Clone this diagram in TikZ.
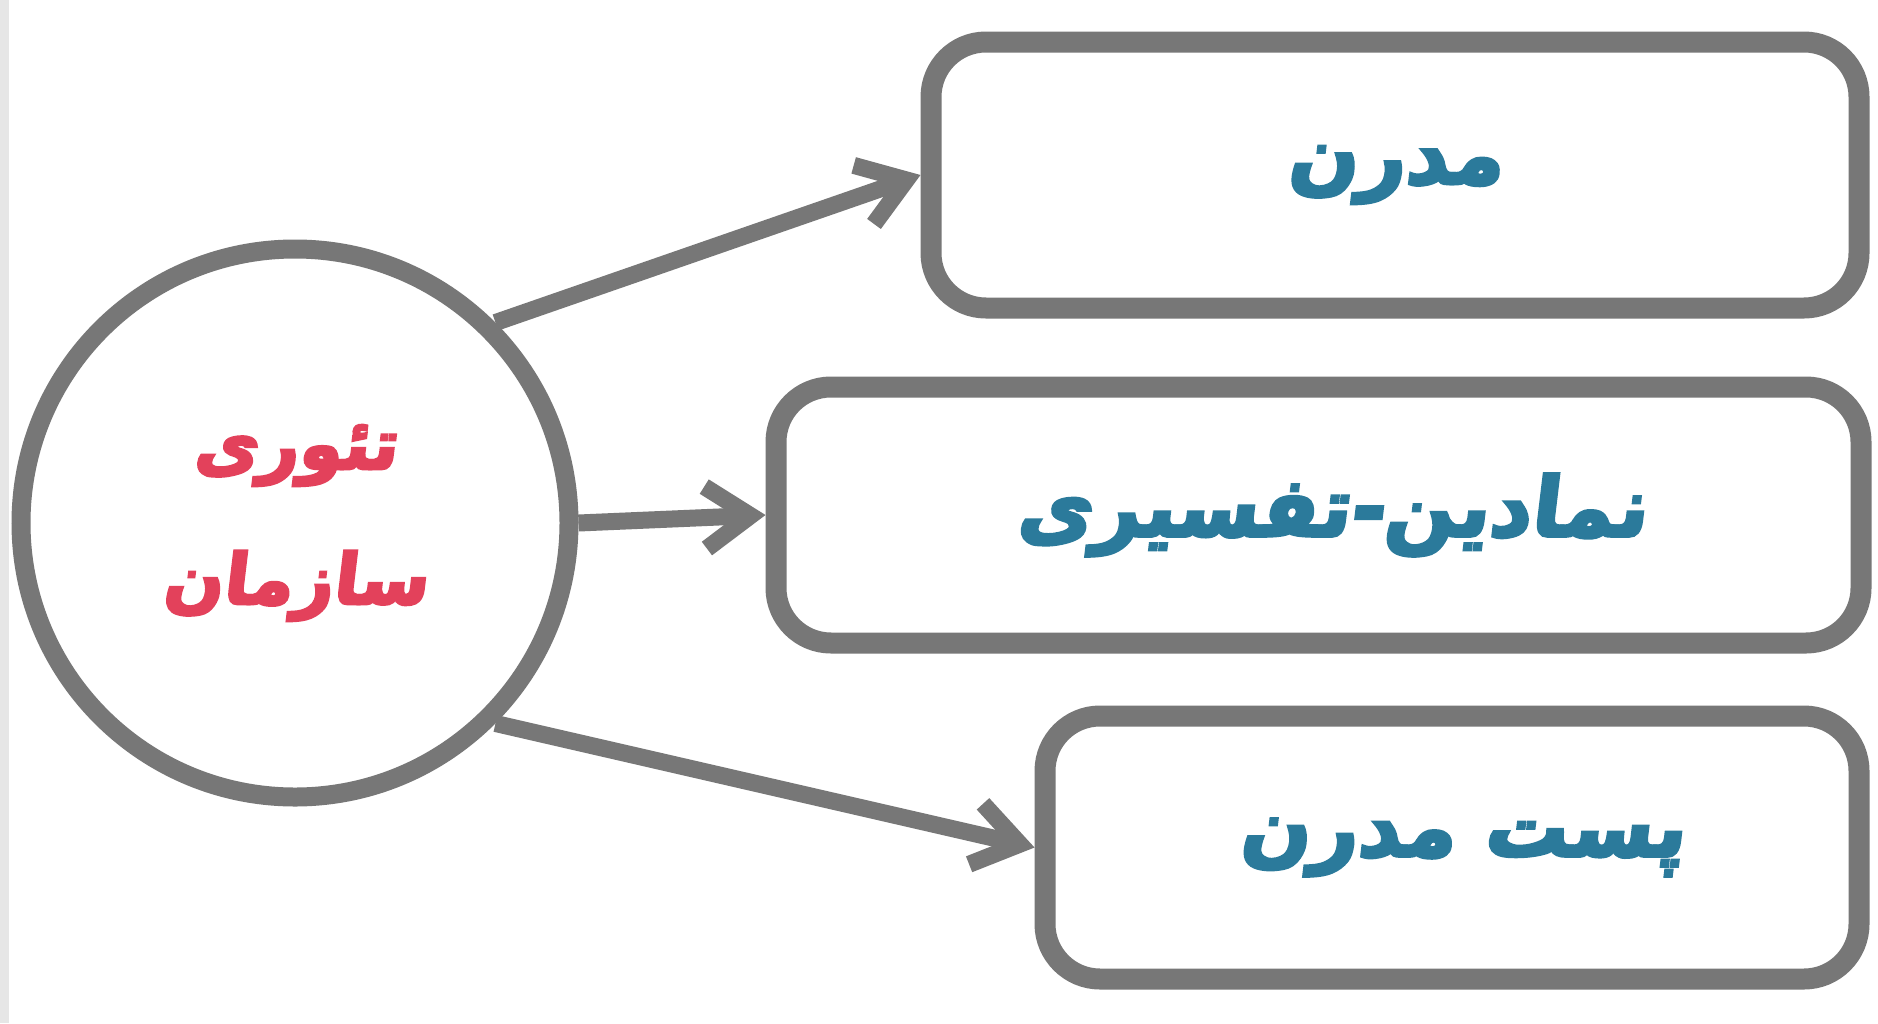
\documentclass[tikz,border=0pt]{standalone}
\usepackage{fontspec}
\usetikzlibrary{arrows.meta}
\TeXXeTstate=1
\newfontfamily\fa[Script=Arabic,FakeSlant=0.12,BoldFeatures={FakeBold=4}]{DejaVu Sans}
\definecolor{edge}{HTML}{777777}
\definecolor{txtblue}{HTML}{2B7A9B}
\definecolor{txtred}{HTML}{E3415B}
\definecolor{strip}{HTML}{E6E6E6}
\tikzset{
  box/.style={draw=edge, line width=21pt, rounded corners=55pt, fill=white, inner sep=0pt,
    font=\fa\bfseries\fontsize{82}{90}\selectfont, text=txtblue},
  hub/.style={circle, draw=edge, line width=19pt, minimum size=548pt, inner sep=0pt, fill=white,
    font=\fa\bfseries\fontsize{70}{135}\selectfont, text=txtred, align=center},
  link/.style={draw=edge, line width=17pt, -{Straight Barb[length=45pt,width=62pt]}}
}
\begin{document}
\begin{tikzpicture}[x=1pt,y=-1pt]
\useasboundingbox (0,0) rectangle (1878,1023);
\fill[white] (0,0) rectangle (1878,1023);
\fill[strip] (0,0) rectangle (9,1023);
\node[hub] (c) at (295,523) {\beginR تئوری\endR\\\beginR سازمان\endR};
\node[box, minimum width=928pt, minimum height=266pt] (b1) at (1395,175) {\raisebox{-10pt}{\beginR مدرن\endR}};
\node[box, minimum width=1085pt, minimum height=256pt] (b2) at (1318.5,515) {\hspace*{26pt}\raisebox{-6pt}{\beginR نمادین-تفسیری\endR}};
\node[box, minimum width=814pt, minimum height=263pt] (b3) at (1452,847.5) {\hspace*{20pt}\raisebox{-12pt}{\beginR پست مدرن\endR}};
\draw[link] (c.45) -- (b1.west);
\draw[link] (c.east) -- (b2.west);
\draw[link] (c.-45) -- (b3.west);
\end{tikzpicture}
\end{document}
